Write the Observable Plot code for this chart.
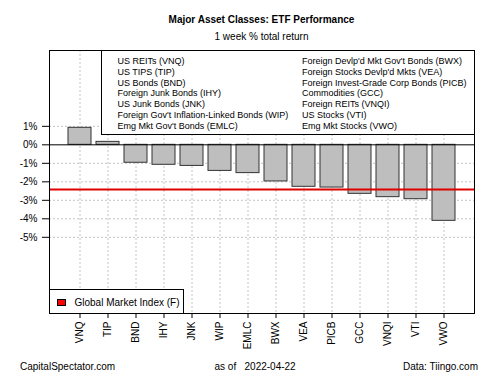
<!DOCTYPE html>
<html><head><meta charset="utf-8">
<script src="https://cdn.jsdelivr.net/npm/d3@7"></script>
<script src="https://cdn.jsdelivr.net/npm/@observablehq/plot@0.6"></script>
<style>
body{margin:0;background:#fff;font-family:"Liberation Sans",Arial,sans-serif;}
#wrap{position:relative;width:500px;height:375px;overflow:hidden;}
.t{position:absolute;white-space:pre;line-height:1.15;color:#000;}
.box{position:absolute;background:#fff;border:1px solid #000;box-sizing:border-box;}
</style></head><body><div id="wrap"></div>
<script>
const tickers = ["VNQ","TIP","BND","IHY","JNK","WIP","EMLC","BWX","VEA","PICB","GCC","VNQI","VTI","VWO"];
const returns = [0.92,0.16,-0.97,-1.08,-1.14,-1.41,-1.53,-1.98,-2.27,-2.31,-2.65,-2.83,-2.94,-4.11];
const benchmark = [-2.42];
const yTicks = [1,0,-1,-2,-3,-4,-5];
const gridY = [1,-1,-2,-3,-4,-5];
const legendLeft = ["US REITs (VNQ)","US TIPS (TIP)","US Bonds (BND)","Foreign Junk Bonds (IHY)","US Junk Bonds (JNK)","Foreign Gov't Inflation-Linked Bonds (WIP)","Emg Mkt Gov't Bonds (EMLC)"];
const legendRight = ["Foreign Devlp'd Mkt Gov't Bonds (BWX)","Foreign Stocks Devlp'd Mkts (VEA)","Foreign Invest-Grade Corp Bonds (PICB)","Commodities (GCC)","Foreign REITs (VNQI)","US Stocks (VTI)","Emg Mkt Stocks (VWO)"];
const title = "Major Asset Classes: ETF Performance";
const subtitle = "1 week % total return";
const benchLabel = "Global Market Index (F)";
const footLeft = "CapitalSpectator.com";
const footMid = "as of   2022-04-22";
const footRight = "Data: Tiingo.com";

const data = tickers.map((t, i) => ({ticker: t, ret: returns[i]}));

const chart = Plot.plot({
  width: 500,
  height: 375,
  marginTop: 50,
  marginBottom: 62,
  marginLeft: 49,
  marginRight: 26,
  style: {fontFamily: "Liberation Sans, Arial, sans-serif", fontSize: "10px", background: "#fff", color: "#000"},
  x: {domain: tickers, paddingInner: 0.1667, paddingOuter: 0.552, label: null, tickSize: 5, tickPadding: 3, tickRotate: -90},
  y: {domain: [-9.12, 5.1], ticks: yTicks, tickFormat: d => `${d}%`, label: null, tickSize: 7, tickPadding: 5},
  marks: [
    Plot.ruleX(tickers, {x: d => d, stroke: "#c4c4c4", strokeDasharray: "2,2"}),
    Plot.ruleY(gridY, {y: d => d, stroke: "#c4c4c4", strokeDasharray: "2,2"}),
    Plot.barY(data, {x: "ticker", y: "ret", fill: "#bebebe", stroke: "#333", strokeWidth: 1}),
    Plot.ruleY([0], {stroke: "#000", strokeWidth: 1}),
    Plot.ruleY(benchmark, {y: d => d, stroke: "#e00000", strokeWidth: 2}),
    Plot.frame({stroke: "#000"})
  ]
});

const wrap = document.getElementById("wrap");
wrap.appendChild(chart);

function addText(txt, left, top, opts = {}) {
  const d = document.createElement("div");
  d.className = "t";
  d.textContent = txt;
  d.style.left = left + "px";
  d.style.top = top + "px";
  d.style.fontSize = (opts.size || 10) + "px";
  if (opts.bold) d.style.fontWeight = "bold";
  d.style.transform = opts.anchor === "middle" ? "translate(-50%,-50%)" : opts.anchor === "end" ? "translate(-100%,-50%)" : "translate(0,-50%)";
  wrap.appendChild(d);
  return d;
}
function addBox(l, t, w, h) {
  const b = document.createElement("div");
  b.className = "box";
  b.style.left = l + "px"; b.style.top = t + "px";
  b.style.width = w + "px"; b.style.height = h + "px";
  wrap.appendChild(b);
  return b;
}

addText(title, 261.5, 20, {bold: true, anchor: "middle"});
addText(subtitle, 261.5, 37, {anchor: "middle"});

addBox(101, 50, 374, 85);
legendLeft.forEach((s, i) => addText(s, 117.5, 61 + i * 10.83, {size: 9}));
legendRight.forEach((s, i) => addText(s, 302, 61 + i * 10.83, {size: 9}));

addBox(49, 289, 135, 25);
const sw = addBox(57, 299, 9, 7);
sw.style.background = "#ff0000";
addText(benchLabel, 74.5, 303, {size: 10});

addText(footLeft, 20, 367, {size: 10});
addText(footMid, 214.5, 367, {size: 10});
addText(footRight, 478, 367, {size: 10, anchor: "end"});
</script></body></html>
